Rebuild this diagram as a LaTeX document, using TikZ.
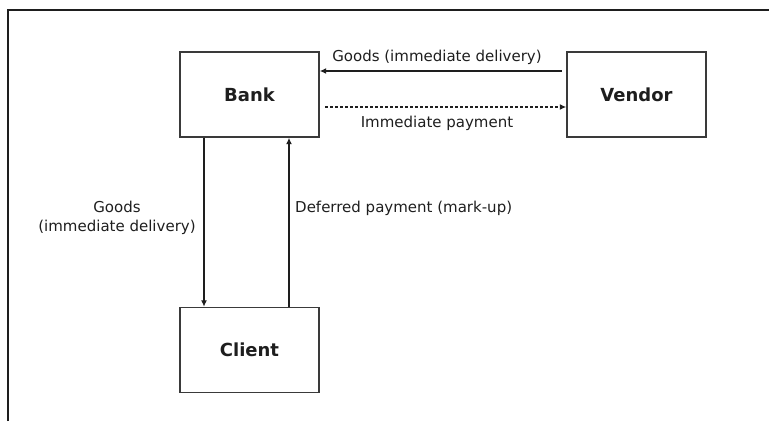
\documentclass[tikz,border=0pt]{standalone}
\usepackage{fontspec}
\setmainfont{DejaVu Sans}
\usetikzlibrary{arrows.meta}

\definecolor{ink}{HTML}{1E1E1E}
\definecolor{boxline}{HTML}{3A3A3A}

\tikzset{
  party/.style={draw=boxline, line width=1.4pt, minimum width=139pt, minimum height=85pt,
                inner sep=0pt, font=\fontsize{18}{22}\selectfont\bfseries, text=ink},
  flowlabel/.style={font=\fontsize{15}{19}\selectfont, text=ink, inner sep=0pt},
  flow/.style={draw=ink, line width=1.3pt, -{Latex[length=6.5pt,width=6pt]}},
  paidflow/.style={flow, dash pattern=on 3pt off 2pt},
}

\begin{document}
\begin{tikzpicture}[x=1pt, y=-1pt]
  \useasboundingbox (0,0) rectangle (769,421);

  % outer frame: top and left edges only
  \draw[line width=2.6pt, ink] (8,421) -- (8,10) -- (769,10);

  % parties
  \node[party] (bank)   at (249.5, 94.5) {Bank};
  \node[party] (vendor) at (636.5, 94.5) {Vendor};
  \node[party] (client) at (249.5, 350)  {Client};

  % anchor points for the flows
  \coordinate (vout) at (561.5, 71);
  \coordinate (bin)  at (bank.east |- vout);
  \coordinate (bout) at (325, 107);
  \coordinate (vin)  at (vendor.west |- bout);
  \coordinate (bdown) at (204, 0);
  \coordinate (bup)   at (289, 0);

  % bank <-> vendor
  \draw[flow] (vout) -- (bin);
  \draw[paidflow] (bout) -- (vin);
  \node[flowlabel, anchor=base] (lgoods) at (437, 61) {Goods (immediate delivery)};
  \node[flowlabel] (lpay) at (437, 123) {Immediate payment};

  % bank <-> client
  \draw[flow] (bank.south -| bdown) -- (client.north -| bdown);
  \draw[flow] (client.north -| bup) -- (bank.south -| bup);
  \node[flowlabel, align=center] (lgoods2) at (117, 217.5) {Goods\\(immediate delivery)};
  \node[flowlabel, anchor=west] (ldef) at (295, 208) {Deferred payment (mark-up)};
\end{tikzpicture}
\end{document}
